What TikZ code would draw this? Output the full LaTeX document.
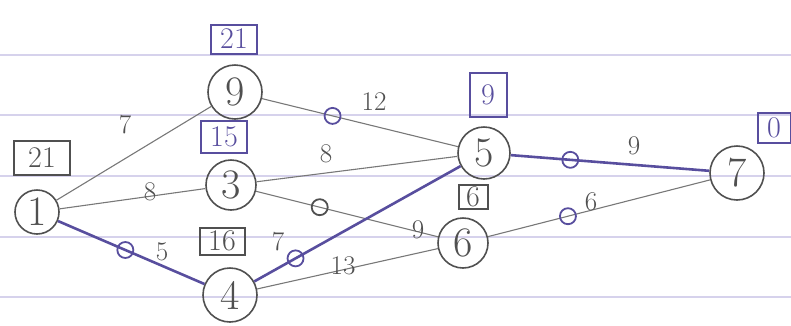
\documentclass[tikz,border=0pt]{standalone}
\usepackage{fontspec}
\usetikzlibrary{calc}
\definecolor{inkpurple}{RGB}{88,78,158}
\definecolor{inkgray}{RGB}{120,120,120}
\definecolor{circgray}{RGB}{80,80,80}
\definecolor{ruled}{RGB}{214,210,236}
\begin{document}
\begin{tikzpicture}[x=1pt,y=-1pt,
  ev/.style={circle,draw=circgray,line width=1.6pt,inner sep=0pt,font=\fontsize{42}{42}\selectfont,text=circgray},
  edgeplain/.style={draw=inkgray,line width=1.1pt},
  edgecrit/.style={draw=inkpurple,line width=2.6pt},
  marker/.style={circle,draw=inkpurple,line width=1.8pt,minimum size=16pt,inner sep=0pt},
  markergray/.style={circle,draw=circgray,line width=1.8pt,minimum size=16pt,inner sep=0pt},
  wlabel/.style={font=\fontsize{27}{27}\selectfont,text=circgray},
  tbox/.style={draw=inkpurple,line width=2pt,text=inkpurple,font=\fontsize{30}{30}\selectfont,inner sep=1pt},
  tboxgray/.style={draw=circgray,line width=2pt,text=circgray,font=\fontsize{30}{30}\selectfont,inner sep=1pt}
]
\useasboundingbox (0,0) rectangle (791,325);
% ruled paper lines
\foreach \yy in {55,115,176,237,297}
  \draw[ruled,line width=1.2pt] (0,\yy) -- (791,\yy);

% events
\node[ev,minimum size=44pt] (n1) at (37,212) {1};
\node[ev,minimum size=54pt] (n9) at (235,92) {9};
\node[ev,minimum size=50pt] (n3) at (231,185) {3};
\node[ev,minimum size=54pt] (n4) at (230,295) {4};
\node[ev,minimum size=52pt] (n5) at (484,153) {5};
\node[ev,minimum size=50pt] (n6) at (463,243) {6};
\node[ev,minimum size=54pt] (n7) at (737,173) {7};

% edges
\draw[edgeplain] (n1) -- (n9);
\draw[edgeplain] (n1) -- (n3);
\draw[edgecrit] (n1) -- node[marker,pos=0.46] (m14) {} (n4);
\draw[edgeplain] (n9) -- node[marker,pos=0.36] (m95) {} (n5);
\draw[edgeplain] (n3) -- (n5);
\draw[edgeplain] (n3) -- node[markergray,pos=0.35] (m36) {} (n6);
\draw[edgecrit] (n4) -- node[marker,pos=0.2] (m45) {} (n5);
\draw[edgeplain] (n4) -- (n6);
\draw[edgecrit] (n5) -- node[marker,pos=0.3] (m57) {} (n7);
\draw[edgeplain] (n6) -- node[marker,pos=0.36] (m67) {} (n7);

% weights
\node[wlabel] (w19) at (125,125) {7};
\node[wlabel] (w13) at (150,192) {8};
\node[wlabel] (w14) at (162,252) {5};
\node[wlabel] (w95) at (374,102) {12};
\node[wlabel] (w35) at (326,154) {8};
\node[wlabel] (w36) at (418,230) {9};
\node[wlabel] (w45) at (278,242) {7};
\node[wlabel] (w46) at (343,266) {13};
\node[wlabel] (w57) at (634,146) {9};
\node[wlabel] (w67) at (591,202) {6};

% time boxes
\node[tbox,minimum width=46pt,minimum height=29pt] (b9) at (234,39) {21};
\node[tbox,minimum width=46pt,minimum height=32pt] (b3) at (224,137) {15};
\node[tboxgray,minimum width=56pt,minimum height=34pt] (b1) at (42,158) {21};
\node[tboxgray,minimum width=45pt,minimum height=27pt] (b4) at (222,241) {16};
\node[tbox,minimum width=37pt,minimum height=44pt] (b5) at (488,95) {9};
\node[tboxgray,minimum width=29pt,minimum height=24pt] (b6) at (473,197) {6};
\node[tbox,minimum width=33pt,minimum height=30pt] (b7) at (774,128) {0};
\end{tikzpicture}
\end{document}
